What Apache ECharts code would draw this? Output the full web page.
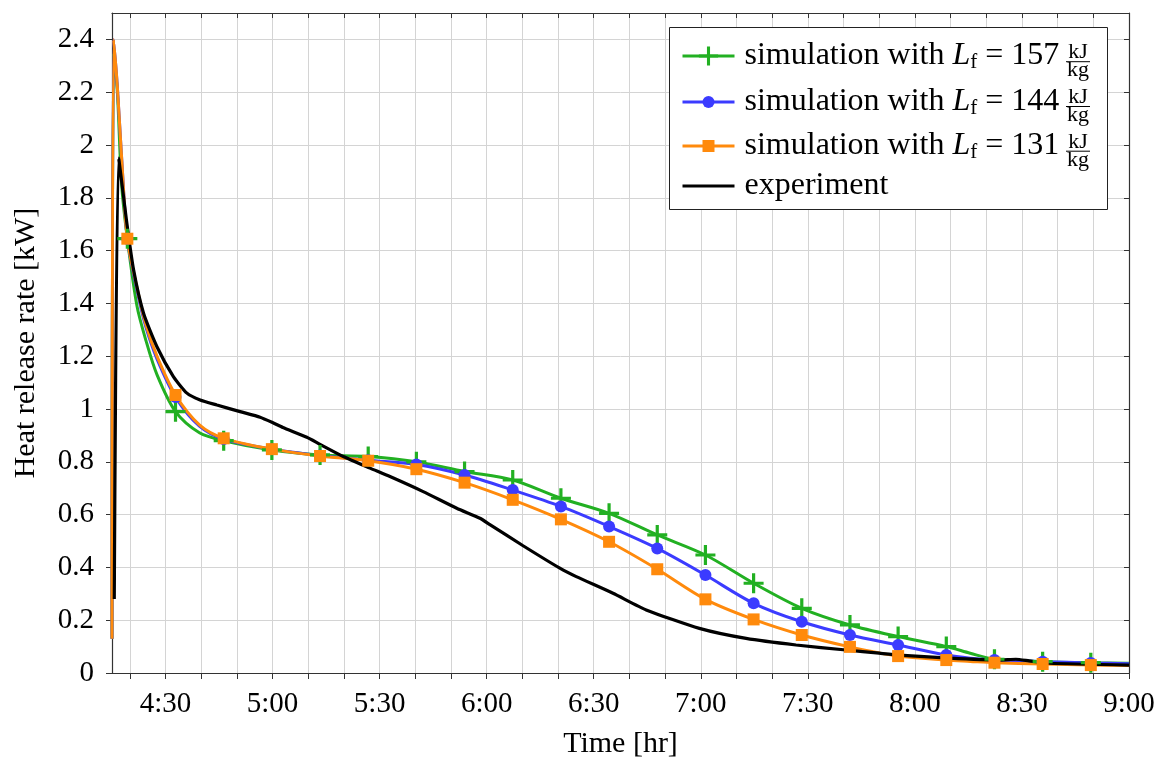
<!DOCTYPE html>
<html>
<head>
<meta charset="utf-8">
<title>Heat release rate</title>
<script src="https://cdn.jsdelivr.net/npm/echarts@6/dist/echarts.min.js"></script>
<style>
  html, body { margin: 0; padding: 0; background: #fff; }
  #chart { width: 1166px; height: 762px; }
</style>
</head>
<body>
<div id="chart"></div>
<script>
// time is in minutes after midnight: 4:15 = 255, 9:00 = 540
var xTicks = [260, 270, 280, 290, 300, 310, 320, 330, 340, 350, 360, 370, 380, 390, 400,
  410, 420, 430, 440, 450, 460, 470, 480, 490, 500, 510, 520, 530, 540];
var xLabels = [270, 300, 330, 360, 390, 420, 450, 480, 510, 540];
var yTicks = [0, 0.2, 0.4, 0.6, 0.8, 1, 1.2, 1.4, 1.6, 1.8, 2, 2.2, 2.4];

// simulations share the same sample times, markers only on markerTime
var simTime = [255, 255.45, 256.5, 257.7, 259.3, 262.0, 264.5, 267.6, 272.8, 279.5, 286.3,
  299.8, 313.3, 326.8, 340.3, 353.8, 367.3, 380.8, 394.3, 407.8, 421.3, 434.8, 448.3,
  461.8, 475.3, 488.8, 495.5, 502.3, 515.8, 529.3, 540];
var markerTime = [259.3, 272.8, 286.3, 299.8, 313.3, 326.8, 340.3, 353.8, 367.3, 380.8, 394.3,
  407.8, 421.3, 434.8, 448.3, 461.8, 475.3, 488.8, 502.3, 515.8, 529.3];
var sim157 = [0.13, 2.35, 2.2, 1.85, 1.645, 1.39, 1.26, 1.13, 0.99, 0.91, 0.88,
  0.845, 0.826, 0.82, 0.80, 0.763, 0.731, 0.662, 0.605, 0.523, 0.447, 0.34, 0.245,
  0.182, 0.138, 0.10, 0.075, 0.052, 0.043, 0.039, 0.037];
var sim144 = [0.13, 2.40, 2.22, 1.95, 1.645, 1.45, 1.31, 1.19, 1.045, 0.935, 0.886,
  0.848, 0.824, 0.806, 0.79, 0.75, 0.693, 0.631, 0.555, 0.472, 0.371, 0.264, 0.194,
  0.144, 0.106, 0.068, 0.056, 0.049, 0.043, 0.038, 0.035];
var sim131 = [0.13, 2.40, 2.22, 1.95, 1.645, 1.46, 1.32, 1.2, 1.053, 0.94, 0.889,
  0.848, 0.822, 0.804, 0.772, 0.721, 0.656, 0.582, 0.497, 0.393, 0.279, 0.203, 0.144,
  0.099, 0.064, 0.049, 0.044, 0.039, 0.034, 0.030, 0.028];

var expTime = [255.64, 256.85, 259.2, 261.05, 263.84, 267.6, 272.2, 276.0, 279.7, 284.4,
  290.9, 296.5, 300.1, 302.9, 309.6, 313.3, 319.8, 327.3, 332.9, 342.2, 351.6, 358.1,
  360.9, 370.2, 380.5, 385.1, 395.4, 404.7, 419.6, 432.7, 446.7, 460.7, 470.0, 475.6,
  489.6, 503.6, 508.3, 512.0, 517.6, 540];
var expValue = [0.28, 1.95, 1.70, 1.527, 1.363, 1.236, 1.123, 1.06, 1.034, 1.015,
  0.99, 0.969, 0.948, 0.93, 0.893, 0.866, 0.82, 0.776, 0.744, 0.687, 0.624, 0.586,
  0.562, 0.482, 0.397, 0.365, 0.302, 0.239, 0.169, 0.131, 0.106, 0.087, 0.075, 0.068,
  0.056, 0.049, 0.052, 0.046, 0.037, 0.030];

var lfValues = ['157', '144', '131'];
var simNames = ['sim157', 'sim144', 'sim131'];
var simColors = ['#22b022', '#3b3bff', '#ff8a0c'];

var serif = 'Liberation Serif, Times New Roman, serif';
var plusPath = 'path://M-1.6,-10H1.6V-1.6H10V1.6H1.6V10H-1.6V1.6H-10V-1.6H-1.6Z';

//1. build line data, hide the symbol where there is no marker
function simData(values) {
  var out = [];
  for (var i = 0; i < simTime.length; i++) {
    if (markerTime.indexOf(simTime[i]) >= 0) {
      out.push([simTime[i], values[i]]);
    } else {
      out.push({value: [simTime[i], values[i]], symbol: 'none'});
    }
  }
  return out;
}

function expData() {
  var out = [];
  for (var i = 0; i < expTime.length; i++) {
    out.push([expTime[i], expValue[i]]);
  }
  return out;
}

function timeLabel(v) {
  var h = Math.floor(v / 60);
  var m = Math.round(v - h * 60);
  return h + ':' + (m < 10 ? '0' + m : m);
}

//2. legend: one legend per row inside a box drawn with graphic,
//   the kJ/kg fraction is drawn on top with graphic too
function legendText(name) {
  var k = simNames.indexOf(name);
  if (k < 0) {
    return '{t|experiment}';
  }
  return '{t|simulation with }{i|L}{s|f}{n| = ' + lfValues[k] + '}';
}

var legendRich = {
  t: {fontFamily: serif, fontSize: 32, color: '#000', padding: [0, 0, 0, 5]},
  i: {fontFamily: serif, fontSize: 32, color: '#000', fontStyle: 'italic'},
  s: {fontFamily: serif, fontSize: 21, color: '#000', padding: [12, 0, 0, 0]},
  n: {fontFamily: serif, fontSize: 32, color: '#000'}
};

function makeLegend(name, top, iconHeight, hideSymbol) {
  var item = {name: name};
  if (hideSymbol) {
    item.itemStyle = {opacity: 0};
  }
  return {
    left: 681, top: top,
    orient: 'vertical',
    data: [item],
    itemWidth: 52, itemHeight: iconHeight, itemGap: 0,
    padding: 0,
    selectedMode: false,
    lineStyle: {width: 3},
    formatter: legendText,
    textStyle: {color: '#000', fontFamily: serif, fontSize: 32, rich: legendRich}
  };
}

var legendTops = [40, 86, 130, 170];
var legendIconHeights = [24, 15, 15, 15];
var legends = [];
for (var l = 0; l < simNames.length; l++) {
  legends.push(makeLegend(simNames[l], legendTops[l], legendIconHeights[l], false));
}
legends.push(makeLegend('experiment', legendTops[3], legendIconHeights[3], true));

var legendBaseline = [66.7, 111.5, 156.2];
var fracGraphics = [{
  type: 'rect', z: 3,
  shape: {x: 669.5, y: 27.5, width: 438, height: 182},
  style: {fill: '#fff', stroke: '#222', lineWidth: 1}
}];
for (var r = 0; r < legendBaseline.length; r++) {
  var b = legendBaseline[r];
  fracGraphics.push({
    type: 'text', z: 5, x: 1078, y: b - 14,
    style: {text: 'kJ', fontFamily: serif, fontSize: 22, fill: '#000',
      align: 'center', verticalAlign: 'middle', textAlign: 'center', textVerticalAlign: 'middle'}
  });
  fracGraphics.push({
    type: 'text', z: 5, x: 1078, y: b + 4,
    style: {text: 'kg', fontFamily: serif, fontSize: 22, fill: '#000',
      align: 'center', verticalAlign: 'middle', textAlign: 'center', textVerticalAlign: 'middle'}
  });
  fracGraphics.push({
    type: 'line', z: 5,
    shape: {x1: 1066, y1: b - 5, x2: 1090, y2: b - 5},
    style: {stroke: '#000', lineWidth: 1}
  });
}

var symbols = [plusPath, 'circle', 'rect'];
var symbolSizes = [20, 12, 12];
var simValues = [sim157, sim144, sim131];
var series = [];
for (var s = 0; s < 3; s++) {
  series.push({
    name: simNames[s],
    type: 'line',
    data: simData(simValues[s]),
    smooth: 0.3,
    showAllSymbol: true,
    symbol: symbols[s],
    symbolSize: symbolSizes[s],
    symbolKeepAspect: true,
    color: simColors[s],
    itemStyle: {color: simColors[s]},
    lineStyle: {color: simColors[s], width: 3},
    emphasis: {disabled: true}
  });
}
series.push({
  name: 'experiment',
  type: 'line',
  data: expData(),
  smooth: 0.2,
  symbol: 'none',
  color: '#000',
  lineStyle: {color: '#000', width: 3.2},
  emphasis: {disabled: true}
});

var axisColor = '#333';
var gridColor = '#d4d4d4';

var option = {
  animation: false,
  backgroundColor: '#fff',
  grid: {left: 112, right: 37, top: 13, bottom: 89, outerBoundsMode: 'none'},
  legend: legends,
  xAxis: [{
    type: 'value', min: 255, max: 540,
    name: 'Time [hr]', nameLocation: 'middle', nameGap: 56,
    nameTextStyle: {fontFamily: serif, fontSize: 30, color: '#000'},
    axisLine: {show: true, onZero: false, lineStyle: {color: axisColor, width: 1.2}},
    axisTick: {show: true, inside: false, length: 6, customValues: xTicks, lineStyle: {color: axisColor}},
    axisLabel: {customValues: xLabels, formatter: timeLabel, margin: 17,
      fontFamily: serif, fontSize: 29, color: '#000'},
    splitLine: {show: true, lineStyle: {color: gridColor, width: 1}}
  }, {
    type: 'value', min: 255, max: 540, position: 'top',
    axisLine: {show: true, onZero: false, lineStyle: {color: axisColor, width: 1.2}},
    axisTick: {show: true, inside: true, length: 5, customValues: xTicks, lineStyle: {color: axisColor}},
    axisLabel: {show: false},
    splitLine: {show: false}
  }],
  yAxis: [{
    type: 'value', min: 0, max: 2.5,
    name: 'Heat release rate [kW]', nameLocation: 'middle', nameGap: 71,
    nameTextStyle: {fontFamily: serif, fontSize: 30, color: '#000'},
    axisLine: {show: true, onZero: false, lineStyle: {color: axisColor, width: 1.2}},
    axisTick: {show: true, inside: false, length: 6, customValues: yTicks, lineStyle: {color: axisColor}},
    axisLabel: {customValues: yTicks, margin: 18, fontFamily: serif, fontSize: 29, color: '#000',
      formatter: function (v) { return String(+(+v).toFixed(1)); }},
    splitLine: {show: true, lineStyle: {color: gridColor, width: 1}}
  }, {
    type: 'value', min: 0, max: 2.5, position: 'right',
    axisLine: {show: true, onZero: false, lineStyle: {color: axisColor, width: 1.2}},
    axisTick: {show: true, inside: true, length: 5, customValues: yTicks, lineStyle: {color: axisColor}},
    axisLabel: {show: false},
    splitLine: {show: false}
  }],
  graphic: fracGraphics,
  series: series
};

var myChart = echarts.init(document.getElementById('chart'), null, {renderer: 'canvas'});
myChart.setOption(option);
</script>
</body>
</html>
